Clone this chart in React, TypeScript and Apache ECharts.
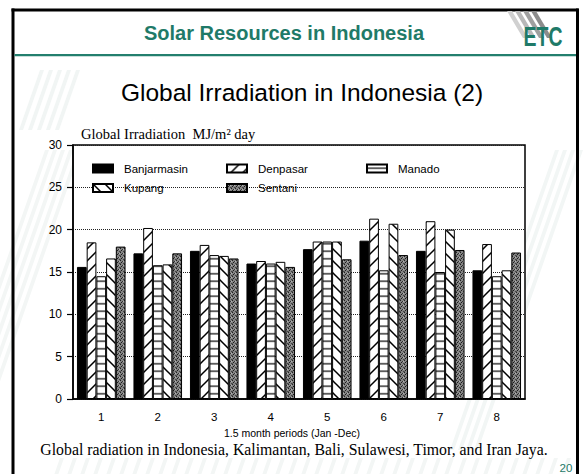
import React, { useEffect, useRef } from "react";
import * as echarts from "echarts";

const categories = ["1", "2", "3", "4", "5", "6", "7", "8"];
const seriesNames = ["Banjarmasin", "Denpasar", "Manado", "Kupang", "Sentani"];
const banjarmasin = [15.6, 17.2, 17.5, 16.0, 17.7, 18.7, 17.5, 15.2];
const denpasar = [18.5, 20.2, 18.2, 16.3, 18.6, 21.3, 21.0, 18.3];
const manado = [14.5, 15.8, 17.0, 16.0, 18.6, 15.2, 15.0, 14.5];
const kupang = [16.6, 15.9, 16.9, 16.2, 18.6, 20.7, 20.0, 15.2];
const sentani = [18.0, 17.2, 16.6, 15.6, 16.5, 17.0, 17.6, 17.3];
const yMin = 0;
const yMax = 30;
const yInterval = 5;

const svgUrl = (w: number, h: number, body: string) =>
  "data:image/svg+xml;charset=utf-8," +
  encodeURIComponent(
    `<svg xmlns="http://www.w3.org/2000/svg" width="${w}" height="${h}">${body}</svg>`
  );

const pattern = (w: number, h: number, body: string) => ({
  image: svgUrl(w, h, body),
  repeat: "repeat",
  imageWidth: w,
  imageHeight: h,
});

const S = 12;
const fwdHatch = pattern(
  S,
  S,
  `<rect width="${S}" height="${S}" fill="#fff"/><path d="M-2,${S + 2} L${S + 2},-2 M-2,2 L2,-2 M${S - 2},${S + 2} L${S + 2},${S - 2}" stroke="#000" stroke-width="1.5"/>`
);
const backHatch = pattern(
  S,
  S,
  `<rect width="${S}" height="${S}" fill="#fff"/><path d="M-2,-2 L${S + 2},${S + 2} M${S - 2},-2 L${S + 2},2 M-2,${S - 2} L2,${S + 2}" stroke="#000" stroke-width="1.5"/>`
);
const horizHatch = pattern(
  4,
  7.5,
  `<rect width="4" height="7.5" fill="#fff"/><path d="M0,3.75 L4,3.75" stroke="#000" stroke-width="1.2"/>`
);
const speckle = pattern(
  4,
  4,
  `<rect width="4" height="4" fill="#858585"/><rect x="0" y="0" width="1" height="1" fill="#222"/><rect x="2" y="1" width="1" height="1" fill="#333"/><rect x="1" y="2" width="1" height="1" fill="#1a1a1a"/><rect x="3" y="3" width="1" height="1" fill="#444"/><rect x="3" y="1" width="1" height="1" fill="#b0b0b0"/><rect x="0" y="3" width="1" height="1" fill="#555"/>`
);

const seriesData = [banjarmasin, denpasar, manado, kupang, sentani];
const seriesFills: any[] = ["#000", fwdHatch, horizHatch, backHatch, speckle];

const legendPos = [
  { left: 92, top: 162.5 },
  { left: 226, top: 162.5 },
  { left: 366, top: 162.5 },
  { left: 92, top: 182 },
  { left: 226, top: 182 },
];

const TEAL = "#1f7a68";

export default function App() {
  const ref = useRef<HTMLDivElement>(null);

  useEffect(() => {
    if (!ref.current) return;
    const chart = echarts.init(ref.current, null, { renderer: "svg" });

    const stripes = [0, 1, 2, 3].map((i) => ({
      type: "polygon",
      shape: {
        points: [
          [507 + 8 * i, 11],
          [512 + 8 * i, 11],
          [528 + 8 * i, 38],
          [523 + 8 * i, 38],
        ],
      },
      style: { fill: ["#d0d0d0", "#b8b8b8", "#a0a0a0", "#8c8c8c"][i] },
      silent: true,
    }));

    // faint watermark stripes of the slide background
    const wm: any[] = [];
    const addWm = (x0: number, y0: number, n: number, dx: number, len: number, fill: string) => {
      for (let k = 0; k < n; k++) {
        const x = x0 + k * dx;
        wm.push({
          type: "polygon",
          shape: {
            points: [
              [x, y0],
              [x + 4, y0],
              [x + 4 - len * 0.35, y0 + len],
              [x - len * 0.35, y0 + len],
            ],
          },
          style: { fill },
          silent: true,
          z: -10,
        });
      }
    };
    addWm(40, 70, 5, 9, 60, "#f1f5f4");
    addWm(45, 150, 5, 8, 250, "#f3f6f5");
    addWm(555, 150, 4, 8, 300, "#f2f6f5");
    addWm(60, 458, 40, 13, 16, "#f3f6f5");

    const option: any = {
      animation: false,
      backgroundColor: "#fff",
      grid: {
        left: 73,
        top: 145,
        width: 452,
        height: 254,
        show: true,
        borderColor: "#000",
        borderWidth: 1.5,
        backgroundColor: "#fff",
      },
      xAxis: {
        type: "category",
        data: categories,
        axisLine: { lineStyle: { color: "#000", width: 1.5 } },
        axisTick: {
          alignWithLabel: true,
          length: 7,
          lineStyle: { color: "#000", width: 1.2 },
        },
        axisLabel: {
          color: "#000",
          fontSize: 11.5,
          fontFamily: "Liberation Sans",
          margin: 12,
        },
        splitLine: { show: false },
      },
      yAxis: {
        type: "value",
        min: yMin,
        max: yMax,
        interval: yInterval,
        axisLine: { show: true, lineStyle: { color: "#000", width: 1.5 } },
        axisTick: { show: true, length: 6, lineStyle: { color: "#000", width: 1.2 } },
        axisLabel: {
          color: "#000",
          fontSize: 12,
          fontFamily: "Liberation Sans",
          margin: 11,
        },
        splitLine: {
          show: true,
          lineStyle: { type: "dotted", color: "#222", width: 1 },
        },
      },
      legend: seriesNames.map((n, i) => ({
        data: [n],
        left: legendPos[i].left,
        top: legendPos[i].top,
        padding: 0,
        itemWidth: 20,
        itemHeight: 8,
        icon: "rect",
        selectedMode: false,
        textStyle: {
          color: "#000",
          fontSize: 11.5,
          fontFamily: "Liberation Sans",
          padding: [0, 0, 0, 6],
        },
      })),
      series: seriesNames.map((n, i) => ({
        type: "bar",
        name: n,
        data: seriesData[i],
        barGap: "0%",
        barCategoryGap: "14%",
        itemStyle: {
          color: seriesFills[i],
          borderColor: "#000",
          borderWidth: 1,
        },
        emphasis: { disabled: true },
      })),
      graphic: [
        ...wm,
        // slide frame
        { type: "rect", shape: { x: 11.5, y: 8.5, width: 3, height: 470 }, style: { fill: "#000" }, silent: true },
        { type: "rect", shape: { x: 11.5, y: 8.5, width: 567, height: 3 }, style: { fill: "#000" }, silent: true },
        { type: "rect", shape: { x: 576, y: 8.5, width: 3, height: 470 }, style: { fill: "#000" }, silent: true },
        { type: "rect", shape: { x: 14.5, y: 54, width: 561.5, height: 2.2 }, style: { fill: "#237f6e" }, silent: true },
        ...stripes,
        {
          type: "text",
          x: 543,
          y: 37,
          scaleX: 0.72,
          style: {
            text: "ETC",
            fill: TEAL,
            font: "bold 27px 'Liberation Sans'",
            textAlign: "center",
            textVerticalAlign: "middle",
          },
          silent: true,
        },
        {
          type: "text",
          x: 284,
          y: 33,
          style: {
            text: "Solar Resources in Indonesia",
            fill: TEAL,
            font: "bold 20px 'Liberation Sans'",
            textAlign: "center",
            textVerticalAlign: "middle",
          },
          silent: true,
        },
        {
          type: "text",
          x: 302,
          y: 92,
          style: {
            text: "Global Irradiation in Indonesia (2)",
            fill: "#000",
            font: "24.5px 'Liberation Sans'",
            textAlign: "center",
            textVerticalAlign: "middle",
          },
          silent: true,
        },
        {
          type: "text",
          x: 81,
          y: 134,
          style: {
            text: "Global Irradiation  MJ/m² day",
            fill: "#000",
            font: "14.5px 'Liberation Serif'",
            textAlign: "left",
            textVerticalAlign: "middle",
          },
          silent: true,
        },
        {
          type: "text",
          x: 292,
          y: 433,
          style: {
            text: "1.5 month periods (Jan -Dec)",
            fill: "#000",
            font: "10.5px 'Liberation Sans'",
            textAlign: "center",
            textVerticalAlign: "middle",
          },
          silent: true,
        },
        {
          type: "text",
          x: 294,
          y: 449,
          style: {
            text: "Global radiation in Indonesia, Kalimantan, Bali, Sulawesi, Timor, and Iran Jaya.",
            fill: "#000",
            font: "15.8px 'Liberation Serif'",
            textAlign: "center",
            textVerticalAlign: "middle",
          },
          silent: true,
        },
        {
          type: "text",
          x: 566,
          y: 468,
          style: {
            text: "20",
            fill: TEAL,
            font: "11.5px 'Liberation Sans'",
            textAlign: "center",
            textVerticalAlign: "middle",
          },
          silent: true,
        },
      ],
    };

    chart.setOption(option);
    return () => chart.dispose();
  }, []);

  return (
    <div
      ref={ref}
      style={{ position: "fixed", left: 0, top: 0, width: 583, height: 474 }}
    />
  );
}
